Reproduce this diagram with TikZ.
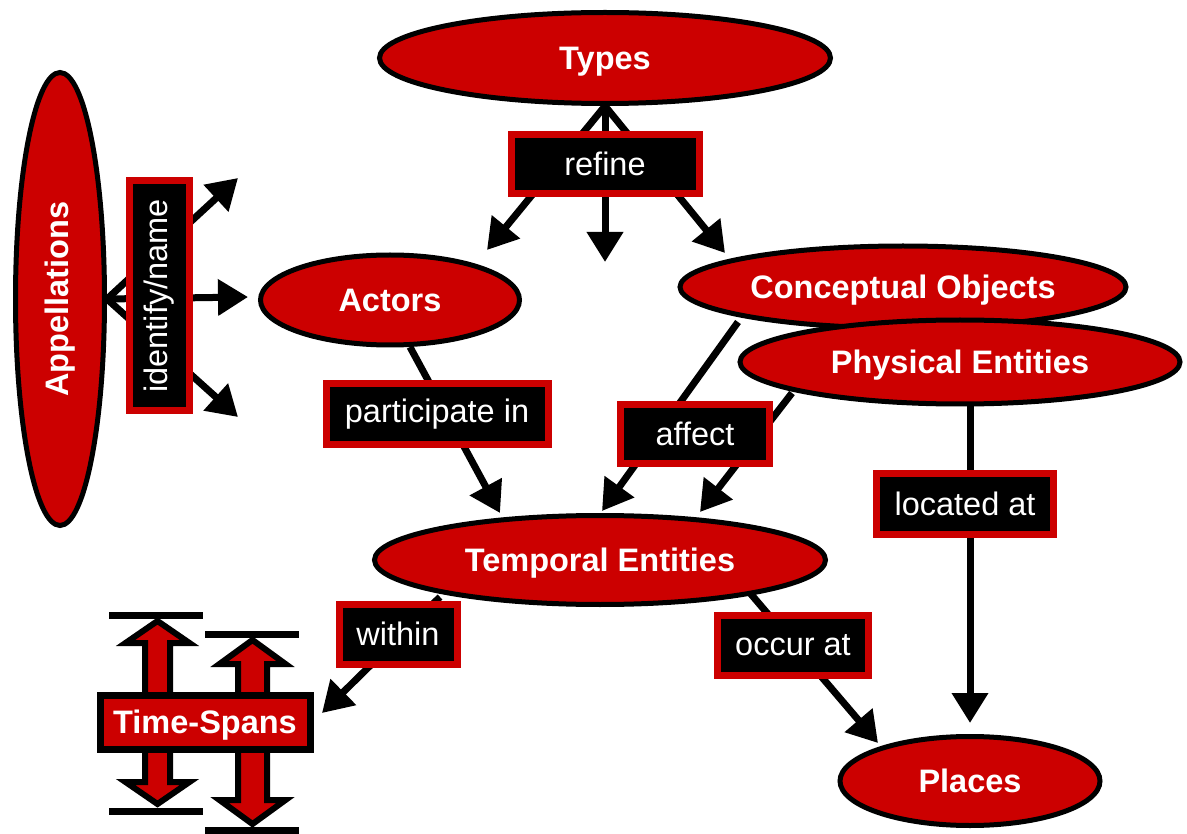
\documentclass[tikz,border=0pt]{standalone}
\usepackage{fontspec}
\setmainfont{Liberation Sans}
\usepackage{graphicx}
\usetikzlibrary{shapes.geometric,arrows.meta,calc}
\pgfdeclarelayer{background}
\pgfsetlayers{background,main}
\definecolor{cred}{RGB}{204,0,0}
\tikzset{
  ent/.style={ellipse, draw=black, line width=5pt, fill=cred, text=white,
    font=\fontsize{32.5}{36}\selectfont\bfseries, inner sep=0pt},
  flat/.style={text depth=0pt},
  lab/.style={rectangle, draw=cred, line width=7pt, fill=black, text=white,
    font=\fontsize{32.5}{36}\selectfont, inner sep=0pt},
  conn/.style={draw=black, line width=7pt, -{Triangle[length=30pt,width=35pt]}},
  spanarrow/.style={draw=black, line width=6pt, fill=cred, line join=miter},
  spanbar/.style={draw=black, line width=7pt},
  spanbox/.style={rectangle, draw=black, line width=7pt, fill=cred, text=white,
    font=\fontsize{32.5}{36}\selectfont\bfseries, inner sep=0pt}
}
\begin{document}
\begin{tikzpicture}[x=1pt,y=-1pt]
\useasboundingbox (0,0) rectangle (1187,834);
% entities
\node[ent, flat, minimum width=451pt, minimum height=91pt] (types) at (605,58) {Types};
\node[ent, minimum width=89pt, minimum height=453pt] (app) at (60,299) {\rotatebox{90}{Appellations}};
\node[ent, flat, minimum width=259pt, minimum height=90pt] (actors) at (390,300) {Actors};
\node[ent, flat, minimum width=446pt, minimum height=82pt] (concept) at (903,287) {Conceptual Objects};
\node[ent, flat, minimum width=440pt, minimum height=84pt] (physical) at (960,362) {Physical Entities};
\node[ent, flat, minimum width=451pt, minimum height=89pt] (temporal) at (600,560) {Temporal Entities};
\node[ent, flat, minimum width=260pt, minimum height=89pt] (places) at (970,781) {Places};

% free arrow ends
\coordinate (r1) at (487,250);
\coordinate (r2) at (605,262);
\coordinate (r3) at (725,253);
\coordinate (a1) at (238,178);
\coordinate (a2) at (248,297);
\coordinate (a3) at (238,417);
\coordinate (pt) at (500,513);
\coordinate (ct) at (602,511);
\coordinate (ht) at (700,512);
\coordinate (lt) at (970,723);
\coordinate (ot) at (878,743);
\coordinate (wt) at (322,713);

% Time-spans symbol
\path[spanarrow] (157.5,621) -- (189.5,643) -- (170,643) -- (170,782) -- (189.5,782)
  -- (157.5,804) -- (125.5,782) -- (145,782) -- (145,643) -- (125.5,643) -- cycle;
\path[spanarrow] (252.5,640) -- (285.5,664) -- (267,664) -- (267,800) -- (285.5,800)
  -- (252.5,824) -- (219.5,800) -- (238,800) -- (238,664) -- (219.5,664) -- cycle;
\path[spanbar] (109,615) -- (203,615);
\path[spanbar] (109,811) -- (203,811);
\path[spanbar] (205,634) -- (299,634);
\path[spanbar] (205,830) -- (299,830);
\node[spanbox, flat, minimum width=210pt, minimum height=54pt] (spans) at (205,722) {Time-Spans};

% labels
\node[lab, minimum width=188pt, minimum height=59pt] (refine) at (605,164) {refine};
\node[lab, minimum width=60pt, minimum height=230pt] (identify) at (159,296) {\rotatebox{90}{identify/name}};
\node[lab, minimum width=222pt, minimum height=61pt] (partic) at (437,414) {participate in};
\node[lab, minimum width=149pt, minimum height=59pt] (affect) at (695,434) {affect};
\node[lab, minimum width=177pt, minimum height=61pt] (located) at (965,504) {located at};
\node[lab, minimum width=151pt, minimum height=60pt] (occur) at (793,645) {occur at};
\node[lab, minimum width=118pt, minimum height=60pt] (within) at (398,634) {within};

% connectors
\begin{pgfonlayer}{background}
\draw[conn] (types.south) -- (r1);
\draw[conn] (types.south) -- (r2);
\draw[conn] (types.south) -- (r3);
\draw[conn] (app.east) -- (a1);
\draw[conn] (app.east) -- (a2);
\draw[conn] (app.east) -- (a3);
\draw[conn] ($(actors)+(20,47)$) -- (pt);
\draw[conn] ($(concept)+(-165,35)$) -- (ct);
\draw[conn] ($(physical)+(-168,31)$) -- (ht);
\draw[conn] ($(physical)+(10,40)$) -- (lt);
\draw[conn] ($(temporal)+(150,33)$) -- (ot);
\draw[conn] ($(temporal)+(-160,37)$) -- (wt);
\end{pgfonlayer}
\end{tikzpicture}
\end{document}
